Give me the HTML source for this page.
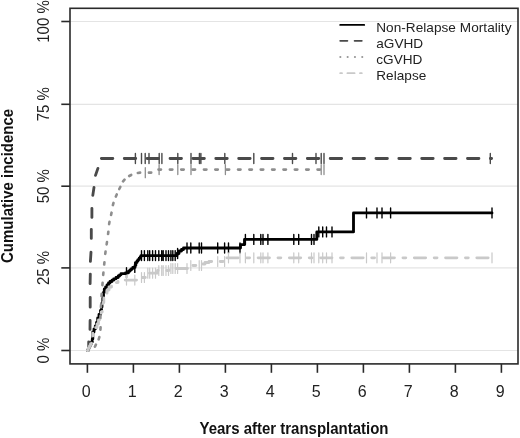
<!DOCTYPE html>
<html><head><meta charset="utf-8"><title>Cumulative incidence</title>
<style>
html,body{margin:0;padding:0;background:#fff;}
body{width:520px;height:438px;overflow:hidden;}
svg{display:block;-webkit-font-smoothing:antialiased;will-change:transform;font-family:"Liberation Sans", sans-serif;}
</style></head><body>
<svg width="520" height="438" viewBox="0 0 520 438">
<rect width="520" height="438" fill="#fff"/>
<line x1="70.0" y1="350.50" x2="518.0" y2="350.50" stroke="#e4e4e4" stroke-width="1.2"/>
<line x1="70.0" y1="267.90" x2="518.0" y2="267.90" stroke="#e4e4e4" stroke-width="1.2"/>
<line x1="70.0" y1="186.20" x2="518.0" y2="186.20" stroke="#e4e4e4" stroke-width="1.2"/>
<line x1="70.0" y1="104.30" x2="518.0" y2="104.30" stroke="#e4e4e4" stroke-width="1.2"/>
<line x1="70.0" y1="21.50" x2="518.0" y2="21.50" stroke="#e4e4e4" stroke-width="1.2"/>
<path d="M87.4 350.5 H88.3 V348.0 H89.5 V346.0 H90.5 V344.0 H91.5 V342.0 H92.3 V339.0 H92.8 V332.0 H94.0 V329.0 H95.3 V326.0 H96.5 V322.5 H97.7 V318.0 H99.0 V314.5 H100.5 V310.5 H101.5 V307.0 H102.0 V303.0 H102.8 V298.0 H103.5 V292.5 H104.3 V289.0 H105.6 V287.0 H107.0 V285.0 H108.5 V283.0 H110.0 V281.5 H112.0 V280.2 H113.7 V278.8 H116.0 V277.5 H118.2 V276.0 H119.6 V274.8 H121.0 V273.6 H125.5 V272.8 H128.5 V271.2 H130.0 V269.8 H131.5 V268.6 H132.8 V267.4 H135.0 V265.5 H135.8 V262.5 H137.0 V261.0 H138.0 V259.6 H139.2 V258.2 H140.2 V256.8 H141.0 V255.6 H177.0 V253.5 H179.0 V251.0 H181.5 V249.5 H183.5 V248.0 H240.5 V244.7 H244.5 V239.4 H316.8 V231.9 H353.5 V212.9 H492.0" fill="none" stroke="#000000" stroke-width="2.84" stroke-linecap="round" stroke-linejoin="round"/>
<path d="M126.5 267.8V277.8M134.8 262.4V272.4M141.5 250.6V260.6M144.4 250.6V260.6M147.8 250.6V260.6M149.7 250.6V260.6M152.6 250.6V260.6M155.5 250.6V260.6M158.8 250.6V260.6M161.7 250.6V260.6M163.2 250.6V260.6M166.0 250.6V260.6M168.5 250.6V260.6M170.9 250.6V260.6M172.8 250.6V260.6M175.2 250.6V260.6M177.6 248.5V258.5M187.0 243.0V253.0M190.8 243.0V253.0M199.2 243.0V253.0M201.5 243.0V253.0M217.7 243.0V253.0M224.6 243.0V253.0M228.5 243.0V253.0M240.0 243.0V253.0M245.4 234.4V244.4M253.8 234.4V244.4M260.8 234.4V244.4M263.0 234.4V244.4M267.9 234.4V244.4M293.8 234.4V244.4M298.7 234.4V244.4M311.5 234.4V244.4M314.0 234.4V244.4M318.8 226.9V236.9M322.7 226.9V236.9M326.5 226.9V236.9M332.0 226.9V236.9M366.5 207.9V217.9M377.0 207.9V217.9M382.0 207.9V217.9M390.6 207.9V217.9M492.0 207.9V217.9" fill="none" stroke="#000000" stroke-width="1.40" stroke-linecap="round" stroke-linejoin="round"/>
<path d="M88.70 346.40L88.70 341.80M90.00 329.40L90.10 320.40M90.20 307.20L90.20 297.30M90.10 283.60L90.30 274.10M90.40 261.30L91.00 252.20M91.30 238.40L91.30 229.30M91.90 217.40L91.90 208.30M92.80 195.40L94.00 187.40M95.50 175.40L97.90 168.40" fill="none" stroke="#4a4a4a" stroke-width="2.84" stroke-linecap="round" stroke-linejoin="round"/>
<path d="M99.0 158.5 H491.6" fill="none" stroke="#4a4a4a" stroke-width="2.84" stroke-linecap="round" stroke-linejoin="round" stroke-dasharray="11.44 11.44" stroke-dashoffset="20.48"/>
<path d="M135.4 153.5V163.5M141.5 153.5V163.5M145.2 153.5V163.5M149.0 153.5V163.5M159.2 153.5V163.5M161.9 153.5V163.5M177.8 153.5V163.5M191.0 153.5V163.5M199.4 153.5V163.5M200.9 153.5V163.5M224.8 153.5V163.5M253.8 153.5V163.5M292.5 153.5V163.5M316.0 153.5V163.5M321.2 153.5V163.5M324.0 153.5V163.5M490.3 153.5V163.5" fill="none" stroke="#4a4a4a" stroke-width="1.40" stroke-linecap="round" stroke-linejoin="round"/>
<path d="M94.90 346.74L95.90 344.66M98.67 339.30L99.33 337.10M100.42 329.65L100.58 327.35M100.37 318.15L100.43 315.85M100.94 307.15L101.06 304.85M101.52 296.15L101.68 293.85M102.41 285.15L102.59 282.85M103.20 274.85L103.40 272.55M104.19 264.54L104.41 262.26M105.26 253.84L105.54 251.56M106.64 244.34L106.96 242.06M108.06 234.04L108.34 231.76M109.12 224.14L109.48 221.86M111.07 214.93L111.53 212.67M112.90 205.11L113.50 202.89M115.86 196.56L116.74 194.44M119.29 189.03L120.31 186.97M123.06 181.38L124.54 179.62M129.17 176.02L131.23 174.98M137.86 172.97L140.14 172.63M148.95 172.62L151.25 172.58" fill="none" stroke="#8e8e8e" stroke-width="2.60" stroke-linecap="round" stroke-linejoin="round"/>
<path d="M156.0 172.7 V169.6 H324.0" fill="none" stroke="#8e8e8e" stroke-width="2.84" stroke-linecap="round" stroke-linejoin="round" stroke-dasharray="2.30 9.06" stroke-dashoffset="5.66"/>
<path d="M145.3 167.7V177.7M159.1 164.6V174.6M177.8 164.6V174.6M191.0 164.6V174.6M225.4 164.6V174.6M321.2 164.6V174.6M324.0 164.6V174.6" fill="none" stroke="#8e8e8e" stroke-width="1.30" stroke-linecap="round" stroke-linejoin="round"/>
<path d="M87.4 350.5 H88.3 V348.0 H89.5 V346.0 H90.5 V344.0 H91.5 V342.0 H92.3 V339.0 H92.8 V333.0 H94.0 V330.5 H95.6 V327.5 H97.0 V324.0 H98.5 V320.0 H100.0 V316.0 H101.2 V312.0 H102.2 V307.0 H103.0 V302.5 H103.8 V298.0" fill="none" stroke="#c9c9c9" stroke-width="2.84" stroke-linecap="round" stroke-linejoin="round" stroke-dasharray="2.84 8.52 11.36 8.52" stroke-dashoffset="11.36"/>
<path d="M103.8 298.0 H104.0 H105.5 V294.0 H107.0 V290.0 H109.0 V287.0 H111.5 V284.5 H114.5 V282.6 H118.0 V281.2 H123.0 V280.1 H139.0 V277.5 H146.5 V273.2 H157.5 V270.5 H169.0 V268.5 H187.5 V265.5 H202.0 V264.0 H205.0 V262.5 H209.0 V261.5 H226.0" fill="none" stroke="#c9c9c9" stroke-width="2.84" stroke-linecap="round" stroke-linejoin="round" stroke-dasharray="2.84 8.52 11.36 8.52" stroke-dashoffset="3.30"/>
<path d="M226.0 261.5 V257.8 H492.0" fill="none" stroke="#c9c9c9" stroke-width="2.84" stroke-linecap="round" stroke-linejoin="round" stroke-dasharray="2.84 8.52 11.36 8.52" stroke-dashoffset="6.78"/>
<path d="M126.5 275.1V285.1M134.8 275.1V285.1M141.5 272.5V282.5M144.4 272.5V282.5M147.8 268.2V278.2M149.7 268.2V278.2M152.6 268.2V278.2M155.5 268.2V278.2M158.8 265.5V275.5M161.7 265.5V275.5M163.2 265.5V275.5M166.0 265.5V275.5M168.5 265.5V275.5M170.9 263.5V273.5M172.8 263.5V273.5M175.2 263.5V273.5M177.6 263.5V273.5M187.0 263.5V273.5M190.8 260.5V270.5M199.2 260.5V270.5M201.5 260.5V270.5M217.7 256.5V266.5M224.6 256.5V266.5M228.5 252.8V262.8M240.0 252.8V262.8M245.4 252.8V262.8M253.8 252.8V262.8M260.8 252.8V262.8M263.0 252.8V262.8M267.9 252.8V262.8M293.8 252.8V262.8M298.7 252.8V262.8M311.5 252.8V262.8M314.0 252.8V262.8M318.8 252.8V262.8M322.7 252.8V262.8M326.5 252.8V262.8M332.0 252.8V262.8M366.5 252.8V262.8M377.0 252.8V262.8M382.0 252.8V262.8M390.6 252.8V262.8M492.0 252.8V262.8" fill="none" stroke="#c9c9c9" stroke-width="1.20" stroke-linecap="round" stroke-linejoin="round"/>
<rect x="70.0" y="8.3" width="448.0" height="355.6" fill="none" stroke="#2a2a2a" stroke-width="1.6"/>
<line x1="61.3" y1="350.50" x2="70.0" y2="350.50" stroke="#2a2a2a" stroke-width="1.6"/>
<line x1="61.3" y1="267.90" x2="70.0" y2="267.90" stroke="#2a2a2a" stroke-width="1.6"/>
<line x1="61.3" y1="186.20" x2="70.0" y2="186.20" stroke="#2a2a2a" stroke-width="1.6"/>
<line x1="61.3" y1="104.30" x2="70.0" y2="104.30" stroke="#2a2a2a" stroke-width="1.6"/>
<line x1="61.3" y1="21.50" x2="70.0" y2="21.50" stroke="#2a2a2a" stroke-width="1.6"/>
<line x1="87.40" y1="363.9" x2="87.40" y2="372.8" stroke="#2a2a2a" stroke-width="1.6"/>
<line x1="133.40" y1="363.9" x2="133.40" y2="372.8" stroke="#2a2a2a" stroke-width="1.6"/>
<line x1="179.40" y1="363.9" x2="179.40" y2="372.8" stroke="#2a2a2a" stroke-width="1.6"/>
<line x1="225.40" y1="363.9" x2="225.40" y2="372.8" stroke="#2a2a2a" stroke-width="1.6"/>
<line x1="271.40" y1="363.9" x2="271.40" y2="372.8" stroke="#2a2a2a" stroke-width="1.6"/>
<line x1="317.40" y1="363.9" x2="317.40" y2="372.8" stroke="#2a2a2a" stroke-width="1.6"/>
<line x1="363.40" y1="363.9" x2="363.40" y2="372.8" stroke="#2a2a2a" stroke-width="1.6"/>
<line x1="409.40" y1="363.9" x2="409.40" y2="372.8" stroke="#2a2a2a" stroke-width="1.6"/>
<line x1="455.40" y1="363.9" x2="455.40" y2="372.8" stroke="#2a2a2a" stroke-width="1.6"/>
<line x1="501.40" y1="363.9" x2="501.40" y2="372.8" stroke="#2a2a2a" stroke-width="1.6"/>
<text x="0" y="0" transform="translate(48.6 350.50) rotate(-90) scale(1 1.12)" text-anchor="middle" font-size="15" fill="#222">0 %</text>
<text x="0" y="0" transform="translate(48.6 267.90) rotate(-90) scale(1 1.12)" text-anchor="middle" font-size="15" fill="#222">25 %</text>
<text x="0" y="0" transform="translate(48.6 186.20) rotate(-90) scale(1 1.12)" text-anchor="middle" font-size="15" fill="#222">50 %</text>
<text x="0" y="0" transform="translate(48.6 104.30) rotate(-90) scale(1 1.12)" text-anchor="middle" font-size="15" fill="#222">75 %</text>
<text x="0" y="0" transform="translate(48.6 21.50) rotate(-90) scale(1 1.12)" text-anchor="middle" font-size="15" fill="#222">100 %</text>
<text x="86.30" y="397.2" text-anchor="middle" font-size="16" fill="#222">0</text>
<text x="132.30" y="397.2" text-anchor="middle" font-size="16" fill="#222">1</text>
<text x="178.30" y="397.2" text-anchor="middle" font-size="16" fill="#222">2</text>
<text x="224.30" y="397.2" text-anchor="middle" font-size="16" fill="#222">3</text>
<text x="270.30" y="397.2" text-anchor="middle" font-size="16" fill="#222">4</text>
<text x="316.30" y="397.2" text-anchor="middle" font-size="16" fill="#222">5</text>
<text x="362.30" y="397.2" text-anchor="middle" font-size="16" fill="#222">6</text>
<text x="408.30" y="397.2" text-anchor="middle" font-size="16" fill="#222">7</text>
<text x="454.30" y="397.2" text-anchor="middle" font-size="16" fill="#222">8</text>
<text x="500.30" y="397.2" text-anchor="middle" font-size="16" fill="#222">9</text>
<text x="0" y="0" transform="translate(294 434.1) scale(1 1.05)" text-anchor="middle" font-size="15" font-weight="bold" fill="#111">Years after transplantation</text>
<text x="0" y="0" transform="translate(12.5 185.9) rotate(-90) scale(1 1.08)" text-anchor="middle" font-size="15" font-weight="bold" fill="#111">Cumulative incidence</text>
<path d="M340.2 24.9 H364.2" fill="none" stroke="#000000" stroke-width="1.80" stroke-linecap="round" stroke-linejoin="round"/>
<text x="376.2" y="31.6" font-size="13.6" letter-spacing="0.04" fill="#222">Non-Relapse Mortality</text>
<path d="M340.2 40.8 H364.2" fill="none" stroke="#4a4a4a" stroke-width="1.80" stroke-linecap="round" stroke-linejoin="round" stroke-dasharray="7.20 7.20"/>
<text x="376.2" y="47.5" font-size="13.6" letter-spacing="0.04" fill="#222">aGVHD</text>
<path d="M340.2 57.0 H364.2" fill="none" stroke="#999999" stroke-width="1.80" stroke-linecap="round" stroke-linejoin="round" stroke-dasharray="0.3 7.0"/>
<text x="376.2" y="63.7" font-size="13.6" letter-spacing="0.04" fill="#222">cGVHD</text>
<path d="M340.2 73.2 H364.2" fill="none" stroke="#c9c9c9" stroke-width="1.80" stroke-linecap="round" stroke-linejoin="round" stroke-dasharray="1.80 5.40 7.20 5.40"/>
<text x="376.2" y="79.9" font-size="13.6" letter-spacing="0.04" fill="#222">Relapse</text>
</svg>
</body></html>
